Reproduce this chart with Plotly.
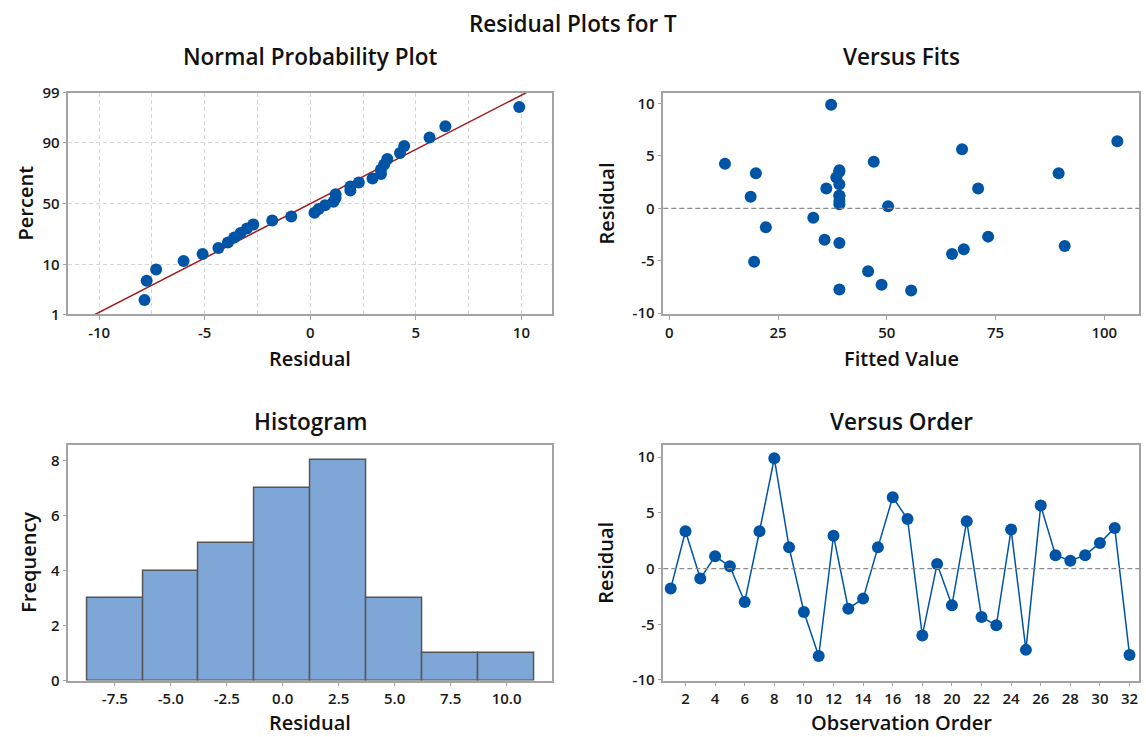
import numpy as np
from statistics import NormalDist
import plotly.graph_objects as go

# Residuals in observation order (1..32) and the matching fitted values
observation = list(range(1, 33))
residual = [-1.8, 3.35, -0.9, 1.1, 0.2, -3.0, 3.35, 9.9, 1.9, -3.9,
            -7.85, 2.95, -3.6, -2.7, 1.9, 6.4, 4.45, -6.0, 0.4, -3.3,
            4.25, -4.35, -5.1, 3.5, -7.3, 5.65, 1.2, 0.7, 1.2, 2.3,
            3.65, -7.75]
fitted = [22.2, 19.9, 33.1, 18.7, 50.3, 35.7, 89.5, 37.2, 36.1, 67.7,
          55.6, 38.4, 90.9, 73.3, 71.0, 103.0, 47.0, 45.7, 39.1, 39.1,
          12.8, 65.0, 19.5, 39.1, 48.8, 67.3, 39.1, 39.1, 39.1, 39.1,
          39.1, 39.1]

# Tick labels
prob_ticks = [1, 10, 50, 90, 99]
resid_ticks = [-10, -5, 0, 5, 10]
fit_ticks = [0, 25, 50, 75, 100]
hist_ticks = [-7.5, -5.0, -2.5, 0.0, 2.5, 5.0, 7.5, 10.0]
freq_ticks = [0, 2, 4, 6, 8]
order_ticks = list(range(2, 33, 2))

BLUE = "#0054a6"
FRAME = "#a3a3a3"
GRID = "#d6d6d6"
FONT = "Open Sans"
W, H = 1146, 737

nd = NormalDist()
res = np.array(residual)
n = len(res)

# Normal probability plot: median ranks on a normal-quantile scale
sorted_res = np.sort(res)
ranks = (np.arange(1, n + 1) - 0.3) / (n + 0.4)
z_pts = [nd.inv_cdf(p) for p in ranks]
mu, sd = res.mean(), res.std(ddof=1)
z_line = np.linspace(nd.inv_cdf(0.01), nd.inv_cdf(0.99), 60)
x_line = mu + sd * z_line


def lbl(v, fmt="{:g}"):
    return fmt.format(v).replace("\u2212", "-")


fig = go.Figure()

fig.add_trace(go.Scatter(x=x_line, y=z_line, mode="lines",
                         line=dict(color="#a31a1a", width=1.5),
                         xaxis="x", yaxis="y", hoverinfo="skip"))
fig.add_trace(go.Scatter(x=sorted_res, y=z_pts, mode="markers",
                         marker=dict(color=BLUE, size=12),
                         xaxis="x", yaxis="y"))

fig.add_trace(go.Scatter(x=fitted, y=residual, mode="markers",
                         marker=dict(color=BLUE, size=12),
                         xaxis="x2", yaxis="y2"))

fig.add_trace(go.Histogram(x=residual,
                           xbins=dict(start=-8.75, end=11.25, size=2.5),
                           marker=dict(color="#7ea7d8",
                                       line=dict(color="#555555", width=1.5)),
                           xaxis="x3", yaxis="y3"))

fig.add_trace(go.Scatter(x=observation, y=residual, mode="lines+markers",
                         line=dict(color=BLUE, width=1.5),
                         marker=dict(color=BLUE, size=12),
                         xaxis="x4", yaxis="y4"))

# Panel rectangles in pixels: left, right, top, bottom
left_px, right_px = (68.3, 552.0), (663.3, 1139.3)
top_px, bottom_px = (83.8, 311.9), (446.1, 688.3)


def xd(p):
    return [p[0] / W, p[1] / W]


def yd(p):
    return [1 - p[1] / H, 1 - p[0] / H]


tickfont = dict(family=FONT, size=15, color="#1a1a1a", weight=600)

base = dict(showline=True, linecolor=FRAME, linewidth=1.5, mirror=True,
            ticks="outside", ticklen=4, tickcolor=FRAME, tickwidth=1,
            tickfont=tickfont, zeroline=False, showgrid=False,
            tickmode="array")

fig.update_layout(
    width=W, height=H,
    margin=dict(l=0, r=0, t=0, b=0),
    paper_bgcolor="white", plot_bgcolor="white",
    showlegend=False, bargap=0,
    xaxis=dict(base, domain=xd(left_px), range=[-11.46, 11.45],
               tickvals=resid_ticks, ticktext=[lbl(v) for v in resid_ticks],
               showgrid=True, gridcolor=GRID, griddash="4px,3px", gridwidth=1,
               minor=dict(tick0=0, dtick=2.5, showgrid=True, gridcolor=GRID,
                          griddash="4px,3px", gridwidth=1, ticklen=0),
               anchor="y"),
    yaxis=dict(base, domain=yd(top_px),
               range=[nd.inv_cdf(0.01), nd.inv_cdf(0.99)],
               tickvals=[nd.inv_cdf(p / 100) for p in prob_ticks],
               ticktext=[lbl(v) for v in prob_ticks],
               showgrid=True, gridcolor=GRID, griddash="4px,3px", gridwidth=1,
               anchor="x"),
    xaxis2=dict(base, domain=xd(right_px), range=[-1.38, 108.05],
                tickvals=fit_ticks, ticktext=[lbl(v) for v in fit_ticks],
                anchor="y2"),
    yaxis2=dict(base, domain=yd(top_px), range=[-10.13, 11.06],
                tickvals=resid_ticks, ticktext=[lbl(v) for v in resid_ticks],
                anchor="x2"),
    xaxis3=dict(base, domain=xd(left_px), range=[-9.58, 12.03],
                tickvals=hist_ticks,
                ticktext=[lbl(v, "{:.1f}") for v in hist_ticks],
                anchor="y3"),
    yaxis3=dict(base, domain=yd(bottom_px), range=[0, 8.56],
                tickvals=freq_ticks, ticktext=[lbl(v) for v in freq_ticks],
                anchor="x3"),
    xaxis4=dict(base, domain=xd(right_px), range=[0.5, 32.66],
                tickvals=order_ticks, ticktext=[lbl(v) for v in order_ticks],
                anchor="y4"),
    yaxis4=dict(base, domain=yd(bottom_px), range=[-10.06, 11.09],
                tickvals=resid_ticks, ticktext=[lbl(v) for v in resid_ticks],
                anchor="x4"),
)

# Dashed reference line at zero residual
for xa, ya in (("x2", "y2"), ("x4", "y4")):
    fig.add_shape(type="line", xref=f"{xa} domain", yref=ya,
                  x0=0, x1=1, y0=0, y1=0,
                  line=dict(color="#8c8c8c", width=1.2, dash="5px,3px"))

titlefont = dict(family=FONT, size=22.5, color="#111111", weight=600)
axfont = dict(family=FONT, size=20, color="#111111", weight=600)


def text(s, x_px, y_px, font, angle=0):
    fig.add_annotation(text=s, x=x_px / W, y=1 - y_px / H, xref="paper",
                       yref="paper", showarrow=False, font=font,
                       xanchor="center", yanchor="middle", textangle=angle)


cx_left = (left_px[0] + left_px[1]) / 2
cx_right = (right_px[0] + right_px[1]) / 2
cy_top = (top_px[0] + top_px[1]) / 2
cy_bottom = (bottom_px[0] + bottom_px[1]) / 2

text("Residual Plots for T", 573, 13, titlefont)
text("Normal Probability Plot", cx_left, 47, titlefont)
text("Versus Fits", cx_right, 47, titlefont)
text("Histogram", cx_left, 421.5, titlefont)
text("Versus Order", cx_right, 421.5, titlefont)

text("Residual", cx_left, 357, axfont)
text("Fitted Value", cx_right, 357, axfont)
text("Residual", cx_left, 731.5, axfont)
text("Observation Order", cx_right, 731.5, axfont)

text("Percent", 25, cy_top, axfont, -90)
text("Residual", 606, cy_top, axfont, -90)
text("Frequency", 29, cy_bottom, axfont, -90)
text("Residual", 606, cy_bottom, axfont, -90)

fig.write_html("out.html")
